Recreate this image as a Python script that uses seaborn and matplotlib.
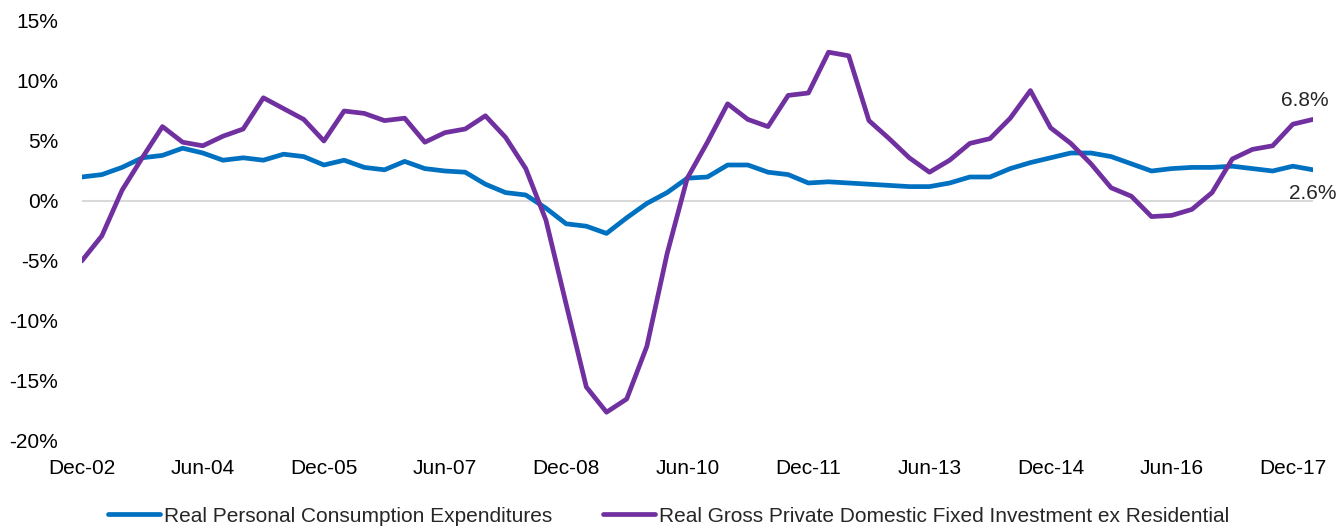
import seaborn as sns
import matplotlib.pyplot as plt
import pandas as pd

# Quarterly YoY growth, Dec-02 .. Mar-18
pce = [2.0, 2.2, 2.8, 3.6, 3.8, 4.4, 4.0, 3.4, 3.6, 3.4,
       3.9, 3.7, 3.0, 3.4, 2.8, 2.6, 3.3, 2.7, 2.5, 2.4,
       1.4, 0.7, 0.5, -0.6, -1.9, -2.1, -2.7, -1.4, -0.2, 0.7,
       1.9, 2.0, 3.0, 3.0, 2.4, 2.2, 1.5, 1.6, 1.5, 1.4,
       1.3, 1.2, 1.2, 1.5, 2.0, 2.0, 2.7, 3.2, 3.6, 4.0,
       4.0, 3.7, 3.1, 2.5, 2.7, 2.8, 2.8, 2.9, 2.7, 2.5,
       2.9, 2.6]
invest = [-5.0, -2.9, 0.9, 3.6, 6.2, 4.9, 4.6, 5.4, 6.0, 8.6,
          7.7, 6.8, 5.0, 7.5, 7.3, 6.7, 6.9, 4.9, 5.7, 6.0,
          7.1, 5.3, 2.7, -1.6, -8.6, -15.5, -17.6, -16.5, -12.1, -4.4,
          1.9, 4.9, 8.1, 6.8, 6.2, 8.8, 9.0, 12.4, 12.1, 6.7,
          5.2, 3.6, 2.4, 3.4, 4.8, 5.2, 6.9, 9.2, 6.1, 4.8,
          3.1, 1.1, 0.4, -1.3, -1.2, -0.7, 0.7, 3.5, 4.3, 4.6,
          6.4, 6.8]
tick_labels = ['Dec-02', 'Jun-04', 'Dec-05', 'Jun-07', 'Dec-08', 'Jun-10',
               'Dec-11', 'Jun-13', 'Dec-14', 'Jun-16', 'Dec-17']
series_names = ['Real Personal Consumption Expenditures',
                'Real Gross Private Domestic Fixed Investment ex Residential']
colors = ['#0070C0', '#7030A0']

n = len(pce)
df = pd.DataFrame({
    'q': list(range(n)) * 2,
    'value': pce + invest,
    'series': [series_names[0]] * n + [series_names[1]] * n,
})

sns.set_style('white')
plt.rcParams['font.family'] = ['Liberation Sans', 'DejaVu Sans']
fs = 15

fig = plt.figure(figsize=(13.37, 5.27), dpi=100)
ax = fig.add_axes([81.7 / 1337, 1 - 441 / 527, (1313 - 81.7) / 1337, 420 / 527])

ax.axhline(0, color='#D9D9D9', lw=1.5, zorder=0)
sns.lineplot(data=df, x='q', y='value', hue='series', palette=colors,
             linewidth=3.4, ax=ax)

ax.set_xlim(0, n - 1)
ax.set_ylim(-20, 15)
ax.set_yticks(range(-20, 16, 5))
ax.set_yticklabels([f'{v}%' for v in range(-20, 16, 5)])
ax.set_xticks(range(0, n, 6))
ax.set_xticklabels(tick_labels)
ax.tick_params(axis='both', length=0, labelsize=fs, colors='#000000')
ax.tick_params(axis='y', pad=17)
ax.tick_params(axis='x', pad=13)
ax.set_xlabel('')
ax.set_ylabel('')
sns.despine(ax=ax, left=True, bottom=True)

ax.annotate(f'{invest[-1]:.1f}%', xy=(n - 1, invest[-1]), xytext=(-6, 10),
            textcoords='offset points', ha='center', va='baseline',
            fontsize=fs, annotation_clip=False)
ax.annotate(f'{pce[-1]:.1f}%', xy=(n - 1, pce[-1]), xytext=(0, -21),
            textcoords='offset points', ha='center', va='baseline',
            fontsize=fs, annotation_clip=False)

sns.move_legend(ax, 'center', bbox_to_anchor=(0.5, 1 - 516 / 527),
                bbox_transform=fig.transFigure, ncol=2, frameon=False,
                title=None, fontsize=fs, handlelength=2.5,
                handletextpad=0.2, columnspacing=2.4)

fig.savefig('out.png', dpi=100)
